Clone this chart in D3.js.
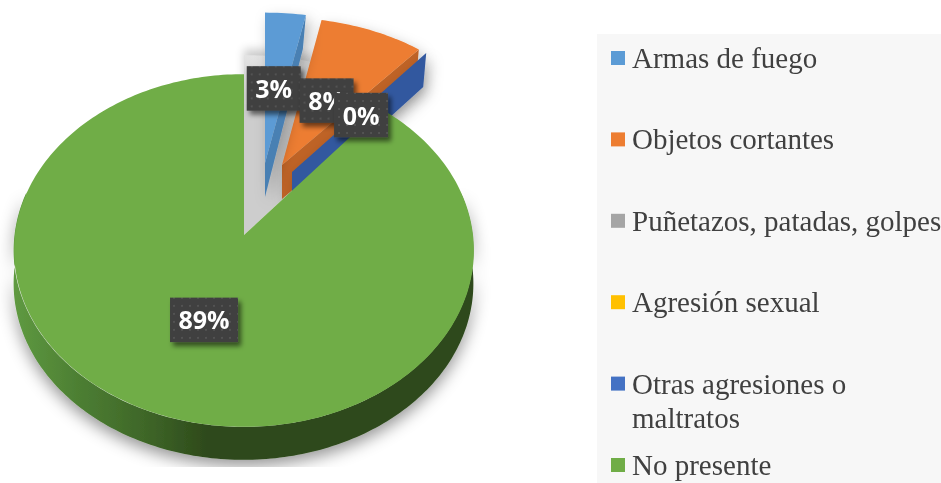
<!DOCTYPE html>
<html><head><meta charset="utf-8">
<script src="https://cdnjs.cloudflare.com/ajax/libs/d3/7.8.5/d3.min.js"></script>
<style>html,body{margin:0;padding:0;background:#fff;overflow:hidden}svg{display:block}</style>
</head><body><svg id="c" width="941" height="483"></svg>
<script>
const categories = ["Armas de fuego","Objetos cortantes","Puñetazos, patadas, golpes","Agresión sexual","Otras agresiones o|maltratos","No presente"];
const values = [3,8,0,0,0,89];
const labels = ["3%","8%",null,null,"0%","89%"];
const colors = ["#5b9bd5","#ed7d31","#a5a5a5","#ffc000","#4472c4","#70ad47"];
const wallColors = ["#4a80b3","#bf6426",null,null,"#31589f",null];

const W=941,H=483, cx=243.5, cy=235, A=229, B=175, K=0.0878, depth=34;
// explosion of each slice: top-surface apex displacement, radius factor, stretch
const explode = [
 {dx:21.5,dy:-72,r:.95,sx:1.085,sy:.98,lr:.42,nx:0,ny:-4},
 {dx:38.5,dy:-70,r:.95,sx:1.05,sy:.96,lr:.3,nx:16,ny:-18},
 null,null,
 {dx:48.5,dy:-63,r:.97,sx:1.01,sy:.97,lr:.38,nx:15,ny:-7},
 {dx:0,dy:0,r:1,sx:1,sy:1,lr:.5,nx:1,ny:-1}];

const svg=d3.select("#c");
const defs=svg.append("defs");
defs.append("clipPath").attr("id","plot").append("rect").attr("width",590).attr("height",467);
const f1=defs.append("filter").attr("id","sh").attr("x","-20%").attr("y","-20%").attr("width","140%").attr("height","140%");
f1.append("feDropShadow").attr("dx",0).attr("dy",6).attr("stdDeviation",8).attr("flood-color","#000").attr("flood-opacity",.42);
const f2=defs.append("filter").attr("id","sl").attr("x","-40%").attr("y","-40%").attr("width","180%").attr("height","180%");
f2.append("feDropShadow").attr("dx",4).attr("dy",6).attr("stdDeviation",7).attr("flood-color","#000").attr("flood-opacity",.28);
const f3=defs.append("filter").attr("id","bl").attr("x","-40%").attr("y","-40%").attr("width","180%").attr("height","180%");
f3.append("feGaussianBlur").attr("stdDeviation",5);
const f4=defs.append("filter").attr("id","lb").attr("x","-30%").attr("y","-30%").attr("width","170%").attr("height","170%");
f4.append("feDropShadow").attr("dx",3).attr("dy",4).attr("stdDeviation",2.5).attr("flood-color","#000").attr("flood-opacity",.55);
const f5=defs.append("filter").attr("id","soft");
f5.append("feGaussianBlur").attr("stdDeviation",.45);
const g0=defs.append("linearGradient").attr("id","wall").attr("gradientUnits","userSpaceOnUse").attr("x1",13).attr("x2",473).attr("y1",0).attr("y2",0);
[[0,"#5f9a41"],[.14,"#4d7f33"],[.3,"#3d6427"],[.42,"#2e4a1b"],[1,"#2e4a1b"]].forEach(s=>g0.append("stop").attr("offset",s[0]).attr("stop-color",s[1]));
const g1=defs.append("linearGradient").attr("id","fade").attr("x1",0).attr("x2",0).attr("y1",0).attr("y2",1);
g1.append("stop").attr("offset",0).attr("stop-color","#e4e4e4");
g1.append("stop").attr("offset",.22).attr("stop-color","#cfcfcf");
g1.append("stop").attr("offset",1).attr("stop-color","#cdcdcd");
const pat=defs.append("pattern").attr("id","dots").attr("width",8).attr("height",8).attr("patternUnits","userSpaceOnUse");
pat.append("rect").attr("width",8).attr("height",8).attr("fill","#3f3f3f");
pat.append("circle").attr("cx",2).attr("cy",2).attr("r",.9).attr("fill","#5c5c5c");

const arcs=d3.pie().sort(null).value(d=>d).startAngle(0).endAngle(2*Math.PI)(values);
function project(theta,r,ox=cx,oy=cy,sx=1,sy=1){
  const u=r*Math.sin(theta), v=r*Math.cos(theta), w=1+K*v;
  return [ox+sx*A*u/w, oy-sy*B*v/w];
}
const line=d3.line();
function wedge(a0,a1,r,ox,oy,sx=1,sy=1){
  const n=Math.max(2,Math.ceil((a1-a0)/0.02));
  const pts=[[ox,oy]];
  d3.range(n+1).forEach(i=>pts.push(project(a0+(a1-a0)*i/n,r,ox,oy,sx,sy)));
  return pts;
}
const root=svg.append("g").attr("clip-path","url(#plot)");

// green wall and floor shadow
const green=arcs[5];
const N=200, a0=Math.PI*.42, a1=Math.PI*1.58;
const front=d3.range(N+1).map(i=>project(a0+(a1-a0)*i/N,1));
const wallPts=front.concat(front.slice().reverse().map(p=>[p[0],p[1]+33]));
root.append("path").attr("d",line(wallPts)+"Z").attr("fill","url(#wall)").attr("filter","url(#sh)");

// floor of the gap left by the exploded slices
const gap=root.append("g");
gap.append("path").attr("d",line(wedge(0,.3,1.17,cx+.5,cy))+"Z").attr("fill","#000").attr("opacity",.2).attr("filter","url(#bl)");
gap.append("path").attr("d",line(wedge(0,.3,1.13,cx+.5,cy))+"Z").attr("fill","url(#fade)");
gap.append("path").attr("d",line(wedge(0,green.startAngle,.8,cx+.5,cy))+"Z").attr("fill","#cdcdcd");

// exploded slices: side wall on the cut edge, then the top surface
[1,4,0].forEach(i=>{
  const a=arcs[i], e=explode[i], ox=cx+e.dx, oy=cy+e.dy;
  const g=root.append("g").attr("filter","url(#sl)");
  const p=project(a.endAngle,e.r,ox,oy,e.sx,e.sy);
  g.append("path").attr("d",line([[ox,oy],p,[p[0]-3,p[1]+depth],[ox,oy+depth]])+"Z").attr("fill",wallColors[i]);
  if(a.endAngle>a.startAngle) g.append("path").attr("d",line(wedge(a.startAngle,a.endAngle,e.r,ox,oy,e.sx,e.sy))+"Z").attr("fill",colors[i]);
});

// green top surface
root.append("path").attr("d",line(wedge(green.startAngle,green.endAngle,1,cx+.5,cy))+"Z").attr("fill",colors[5]);

// data labels
const lw=d=>d.length>2?68:54, lh=44.5;
const lab=root.selectAll("g.lab").data(arcs.map((a,i)=>({a,i})).filter(d=>labels[d.i])).join("g").attr("class","lab")
 .attr("transform",d=>{
   const e=explode[d.i];
   const mid=(d.a.startAngle+d.a.endAngle)/2;
   const p=project(mid,e.lr,cx+e.dx,cy+e.dy);
   return `translate(${p[0]+e.nx},${p[1]+e.ny})`;
 });
lab.append("rect").attr("x",d=>-lw(labels[d.i])/2).attr("y",-lh/2).attr("width",d=>lw(labels[d.i])).attr("height",lh).attr("fill","url(#dots)").attr("filter","url(#lb)");
lab.append("text").attr("text-anchor","middle").attr("y",9.5).attr("fill","#fff").attr("font-family","'Open Sans',sans-serif").attr("font-weight",700).attr("font-size",25).attr("filter","url(#soft)").text(d=>labels[d.i]);

// legend
const leg=svg.append("g");
leg.append("rect").attr("x",597).attr("y",34).attr("width",344).attr("height",449).attr("fill","#f7f7f7");
const ly=d3.scalePoint().domain(categories).range([67,474]);
const it=leg.selectAll("g.it").data(categories).join("g").attr("class","it").attr("transform",d=>`translate(0,${ly(d)})`);
it.append("rect").attr("x",611).attr("y",-16).attr("width",14).attr("height",14).attr("fill",(d,i)=>colors[i]);
it.append("text").attr("x",632).attr("y",1).attr("fill","#404040").attr("font-family","'Liberation Serif',serif").attr("font-size",29).attr("filter","url(#soft)")
 .selectAll("tspan").data(d=>d.split("|")).join("tspan").attr("x",632).attr("dy",(d,i)=>i?34:0).text(d=>d);
</script></body></html>
